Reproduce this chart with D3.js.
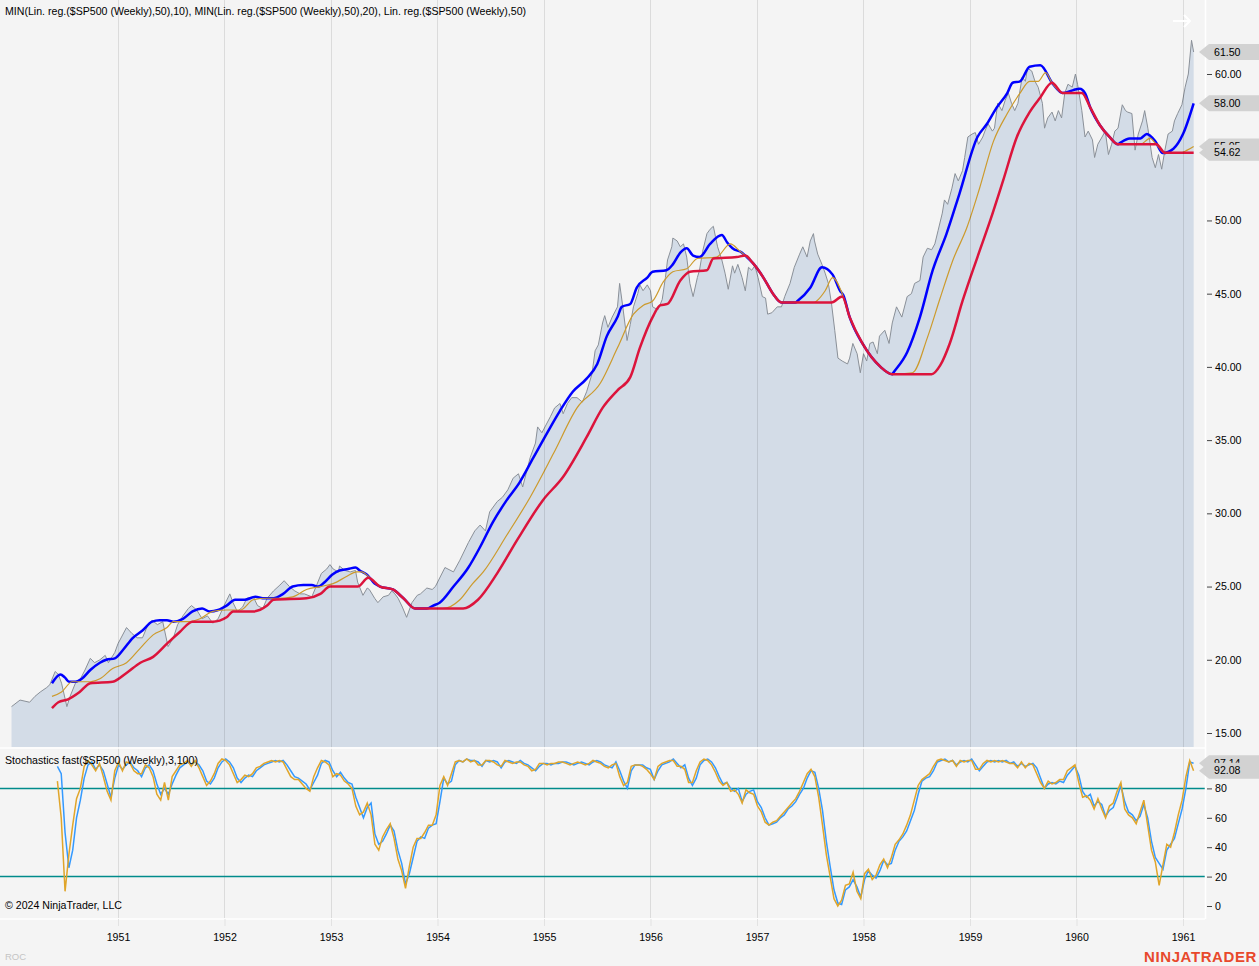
<!DOCTYPE html>
<html><head><meta charset="utf-8">
<script src="https://cdn.jsdelivr.net/npm/d3@7"></script>
<style>
body{margin:0;background:#f4f4f4;}
svg{display:block;font-family:Arial,"Liberation Sans",sans-serif;}
</style>
</head><body>
<svg id="c" width="1259" height="966"></svg>
<script>
// ---------- DATA ----------
const yearTicks = [1951,1952,1953,1954,1955,1956,1957,1958,1959,1960,1961];
const priceTicks = [15,20,25,30,35,40,45,50,55,60];
const stochTicks = [0,20,40,60,80];
const stochLevels = [20,80];

// $SP500 weekly close, [decimal year, value]
const spx1950_52 = [[1950.00,16.8],[1950.08,17.25],[1950.17,17.1],[1950.22,17.5],[1950.27,17.8],[1950.33,18.1],[1950.36,18.3],[1950.41,19.2],[1950.44,19.0],[1950.47,18.4],[1950.52,16.8],[1950.55,17.5],[1950.60,18.4],[1950.64,18.6],[1950.69,19.3],[1950.74,20.1],[1950.78,19.8],[1950.83,20.0],[1950.88,20.3],[1950.91,19.8],[1950.97,20.5],
[1951.00,21.1],[1951.08,22.2],[1951.13,21.8],[1951.18,21.5],[1951.23,21.5],[1951.27,22.2],[1951.32,22.7],[1951.37,22.4],[1951.42,22.6],[1951.47,20.9],[1951.52,21.5],[1951.56,22.4],[1951.61,23.0],[1951.66,23.5],[1951.69,23.7],[1951.74,23.4],[1951.79,22.8],[1951.84,23.0],[1951.89,22.5],[1951.94,22.8],[1951.99,23.6],
[1952.05,24.5],[1952.08,23.9],[1952.12,23.3],[1952.17,23.6],[1952.21,24.2],[1952.27,24.3],[1952.31,23.7],[1952.36,23.5],[1952.40,24.2],[1952.46,24.7],[1952.52,25.1],[1952.56,25.4],[1952.61,25.0],[1952.66,24.7],[1952.71,24.5],[1952.75,24.5],[1952.82,24.3],[1952.86,25.0],[1952.91,25.9],[1952.96,26.2],[1952.99,26.5]];
const spx1953_55 = [[1953.02,26.2],[1953.07,26.0],[1953.08,26.4],[1953.13,26.1],[1953.18,26.0],[1953.23,26.1],[1953.25,25.3],[1953.30,24.4],[1953.34,24.9],[1953.36,24.8],[1953.41,24.2],[1953.44,23.9],[1953.49,24.3],[1953.54,24.4],[1953.57,24.7],[1953.60,24.5],[1953.63,24.2],[1953.67,23.6],[1953.71,22.9],[1953.76,23.9],[1953.81,24.4],[1953.84,24.5],[1953.90,24.9],[1953.95,24.8],[1953.98,25.0],
[1954.07,26.3],[1954.15,26.0],[1954.21,26.8],[1954.29,28.0],[1954.35,28.8],[1954.40,29.2],[1954.45,28.8],[1954.49,30.1],[1954.56,30.8],[1954.61,31.1],[1954.66,31.6],[1954.71,32.4],[1954.76,32.7],[1954.80,31.8],[1954.87,33.8],[1954.92,34.8],[1954.94,35.9],[1954.98,35.5],
[1955.06,36.6],[1955.10,37.2],[1955.15,37.5],[1955.18,36.8],[1955.22,37.5],[1955.26,37.9],[1955.31,37.9],[1955.36,37.6],[1955.40,38.3],[1955.45,39.5],[1955.48,41.1],[1955.51,41.5],[1955.55,43.0],[1955.57,43.5],[1955.60,42.7],[1955.64,43.4],[1955.69,44.1],[1955.71,45.7],[1955.74,44.1],[1955.78,41.8],[1955.81,42.9],[1955.84,44.1],[1955.88,45.0],[1955.90,45.6],[1955.93,45.2],[1955.97,45.6],[1956.00,45.2]];
const spx1956_58 = [[1956.02,44.1],[1956.07,43.9],[1956.11,44.6],[1956.14,46.1],[1956.16,47.3],[1956.20,48.2],[1956.21,48.8],[1956.25,48.6],[1956.28,48.2],[1956.31,48.4],[1956.34,47.5],[1956.37,45.7],[1956.40,44.8],[1956.44,46.1],[1956.46,46.6],[1956.49,47.9],[1956.53,49.1],[1956.56,49.4],[1956.59,49.6],[1956.61,48.9],[1956.63,48.2],[1956.67,47.3],[1956.70,46.4],[1956.73,45.3],[1956.77,46.9],[1956.79,46.4],[1956.82,47.0],[1956.86,46.1],[1956.89,45.2],[1956.92,46.8],[1956.95,46.6],[1956.98,46.9],
[1957.01,46.1],[1957.05,44.8],[1957.08,44.7],[1957.10,43.6],[1957.14,43.7],[1957.19,44.1],[1957.23,44.1],[1957.26,44.8],[1957.31,45.7],[1957.35,46.8],[1957.40,47.7],[1957.43,48.2],[1957.47,47.5],[1957.50,48.6],[1957.53,49.1],[1957.54,48.6],[1957.57,47.7],[1957.61,47.0],[1957.64,46.4],[1957.67,45.7],[1957.70,44.3],[1957.73,42.5],[1957.76,40.6],[1957.80,40.4],[1957.85,40.2],[1957.87,40.6],[1957.90,41.6],[1957.94,40.9],[1957.97,39.6],
[1958.00,40.9],[1958.03,40.4],[1958.06,41.6],[1958.09,41.7],[1958.13,40.9],[1958.15,42.1],[1958.20,42.5],[1958.24,41.6],[1958.27,43.0],[1958.31,44.1],[1958.36,43.4],[1958.41,44.8],[1958.45,45.0],[1958.48,45.7],[1958.53,45.9],[1958.56,47.5],[1958.60,48.1],[1958.64,48.0],[1958.67,48.4],[1958.70,49.3],[1958.74,50.5],[1958.76,51.4],[1958.79,51.1],[1958.83,52.2],[1958.86,53.2],[1958.89,52.7],[1958.93,53.4],[1958.95,54.3],[1958.98,55.7]];
const spx1959_61 = [[1959.02,55.9],[1959.05,56.0],[1959.08,55.2],[1959.12,55.7],[1959.14,56.1],[1959.17,56.6],[1959.21,56.1],[1959.23,56.3],[1959.26,58.0],[1959.30,57.5],[1959.33,58.2],[1959.36,58.7],[1959.39,58.0],[1959.42,57.5],[1959.45,58.0],[1959.49,59.8],[1959.52,59.5],[1959.54,60.4],[1959.58,60.2],[1959.61,59.5],[1959.64,59.1],[1959.68,58.0],[1959.70,56.3],[1959.73,57.0],[1959.77,57.4],[1959.80,56.8],[1959.83,57.5],[1959.86,57.0],[1959.89,58.7],[1959.92,59.3],[1959.96,59.1],[1959.99,60.0],
[1960.01,59.3],[1960.05,57.5],[1960.08,55.7],[1960.11,56.1],[1960.15,55.5],[1960.17,54.3],[1960.20,55.2],[1960.24,55.7],[1960.27,56.1],[1960.30,54.5],[1960.33,55.2],[1960.36,56.1],[1960.39,56.3],[1960.43,57.9],[1960.46,57.5],[1960.48,57.4],[1960.52,57.3],[1960.55,54.8],[1960.58,55.9],[1960.62,56.8],[1960.64,57.5],[1960.67,56.3],[1960.71,54.3],[1960.74,53.6],[1960.77,54.5],[1960.80,53.5],[1960.83,54.8],[1960.86,55.9],[1960.90,56.1],[1960.92,56.8],[1960.95,57.3],[1960.99,57.9],
[1961.02,59.1],[1961.05,60.0],[1961.08,62.3],[1961.10,61.5]];

// Lin. reg.($SP500 (Weekly),50)  (blue)
const linReg50 = [[1950.38,18.4],[1950.46,19.0],[1950.50,18.8],[1950.54,18.5],[1950.60,18.5],[1950.66,18.7],[1950.74,19.3],[1950.83,19.8],[1950.89,20.0],[1950.97,20.1],
[1951.05,20.7],[1951.14,21.5],[1951.23,22.0],[1951.32,22.6],[1951.39,22.7],[1951.46,22.7],[1951.52,22.6],[1951.61,22.8],[1951.70,23.3],[1951.79,23.5],[1951.86,23.3],[1951.94,23.4],
[1952.02,23.7],[1952.10,24.1],[1952.19,24.1],[1952.29,24.3],[1952.36,24.2],[1952.46,24.2],[1952.55,24.5],[1952.64,25.0],[1952.74,25.1],[1952.82,25.1],[1952.88,25.0],[1952.94,25.3],
[1953.01,25.8],[1953.08,26.1],[1953.16,26.2],[1953.23,26.3],[1953.27,26.1],[1953.34,25.8],[1953.41,25.2],[1953.46,25.0],[1953.58,24.8],[1953.68,24.2],[1953.79,23.5],[1953.90,23.5],[1953.96,23.7],
[1954.02,23.9],[1954.15,25.0],[1954.29,26.3],[1954.40,27.7],[1954.52,29.4],[1954.65,30.9],[1954.77,32.1],[1954.90,33.8],
[1955.03,35.5],[1955.15,37.0],[1955.27,38.3],[1955.40,39.2],[1955.50,40.2],[1955.59,42.1],[1955.69,43.4],[1955.73,44.1],[1955.81,44.3],[1955.87,45.4],[1955.97,46.1],
[1956.02,46.5],[1956.15,46.6],[1956.21,47.0],[1956.28,47.8],[1956.34,48.1],[1956.40,47.6],[1956.46,47.5],[1956.56,48.4],[1956.67,49.0],[1956.72,48.5],[1956.77,48.1],[1956.86,47.8],[1956.89,47.6],[1956.96,47.1],
[1957.06,46.1],[1957.15,45.0],[1957.23,44.4],[1957.36,44.4],[1957.38,44.5],[1957.50,45.4],[1957.61,46.8],[1957.71,46.3],[1957.78,45.2],[1957.81,44.9],[1957.87,43.4],[1957.99,41.6],
[1958.16,40.0],[1958.27,39.5],[1958.28,39.6],[1958.41,41.0],[1958.53,43.4],[1958.65,46.6],[1958.78,49.1],[1958.90,51.8],
[1959.07,55.7],[1959.16,56.6],[1959.25,57.7],[1959.35,58.7],[1959.40,59.4],[1959.47,59.5],[1959.56,60.5],[1959.66,60.6],[1959.78,59.3],[1959.87,58.7],[1959.97,58.9],
[1960.03,59.0],[1960.08,58.7],[1960.13,57.7],[1960.22,56.5],[1960.31,55.7],[1960.39,55.2],[1960.41,55.3],[1960.50,55.6],[1960.60,55.6],[1960.66,55.9],[1960.74,55.4],[1960.81,54.6],[1960.91,54.9],
[1961.00,55.9],[1961.10,58.0]];

// MIN(Lin. reg.,10)  (orange)
const minLinReg10 = [[1950.38,17.5],[1950.47,17.8],[1950.57,18.5],[1950.74,18.5],[1950.83,18.7],[1950.95,19.4],
[1951.08,19.8],[1951.21,20.8],[1951.33,21.7],[1951.46,22.2],[1951.52,22.6],[1951.65,22.6],[1951.77,22.8],[1951.89,23.3],
[1952.02,23.4],[1952.15,23.4],[1952.27,24.1],[1952.40,24.2],[1952.52,24.2],[1952.64,24.3],[1952.77,24.8],[1952.90,25.0],
[1953.02,25.2],[1953.15,25.7],[1953.24,26.0],[1953.29,26.0],[1953.35,25.7],[1953.46,25.0],[1953.58,24.8],[1953.68,24.2],[1953.79,23.5],
[1954.05,23.5],[1954.21,24.1],[1954.33,25.2],[1954.43,26.0],[1954.65,28.5],[1954.87,31.1],
[1955.09,34.1],[1955.31,37.2],[1955.53,38.9],[1955.69,41.3],[1955.84,43.6],[1955.93,44.2],
[1956.02,44.5],[1956.12,45.8],[1956.21,46.5],[1956.34,46.7],[1956.44,47.4],[1956.62,47.5],[1956.75,48.4],[1956.84,47.9],[1956.89,47.6],[1956.96,47.1],
[1957.06,46.1],[1957.15,45.0],[1957.23,44.4],[1957.54,44.4],[1957.56,44.5],[1957.64,45.2],[1957.71,46.1],[1957.80,45.0],[1957.87,43.4],[1957.99,41.6],
[1958.16,40.0],[1958.27,39.5],[1958.46,39.6],[1958.60,42.0],[1958.72,44.7],[1958.84,47.3],[1958.97,49.5],
[1959.09,52.2],[1959.22,55.4],[1959.35,57.3],[1959.47,58.7],[1959.56,59.5],[1959.64,59.5],[1959.71,60.1],[1959.77,59.4],[1959.87,58.7],
[1960.05,58.7],[1960.13,57.7],[1960.22,56.5],[1960.31,55.7],[1960.39,55.2],[1960.60,55.2],[1960.69,55.6],[1960.75,55.2],[1960.83,54.6],[1960.97,54.6],
[1961.04,54.8],[1961.10,55.05]];

// MIN(Lin. reg.,20)  (red)
const minLinReg20 = [[1950.38,16.7],[1950.44,17.1],[1950.53,17.3],[1950.64,17.8],[1950.74,18.4],[1950.95,18.5],
[1951.08,19.1],[1951.21,19.8],[1951.33,20.2],[1951.46,21.1],[1951.58,21.9],[1951.70,22.6],[1951.89,22.6],
[1952.02,22.9],[1952.08,23.3],[1952.27,23.3],[1952.40,23.7],[1952.46,24.1],[1952.77,24.2],[1952.90,24.5],[1952.99,25.0],
[1953.25,25.0],[1953.35,25.6],[1953.46,25.0],[1953.58,24.8],[1953.68,24.2],[1953.79,23.5],
[1954.24,23.5],[1954.38,24.1],[1954.56,25.9],[1954.75,28.2],[1954.99,30.9],
[1955.18,32.5],[1955.40,35.2],[1955.55,37.2],[1955.69,38.4],[1955.81,39.3],[1955.90,41.3],
[1956.02,43.4],[1956.09,44.2],[1956.16,44.3],[1956.28,45.9],[1956.37,46.5],[1956.53,46.6],[1956.59,47.4],[1956.81,47.5],[1956.89,47.6],[1956.96,47.1],
[1957.06,46.1],[1957.15,45.0],[1957.23,44.4],[1957.70,44.4],[1957.80,44.8],[1957.87,43.4],[1957.99,41.6],
[1958.16,40.0],[1958.27,39.5],[1958.64,39.5],[1958.72,40.1],[1958.81,41.6],[1958.93,44.5],
[1959.07,47.5],[1959.19,50.0],[1959.31,52.7],[1959.44,55.7],[1959.56,57.4],[1959.66,58.4],[1959.77,59.4],[1959.87,58.7],
[1960.05,58.7],[1960.13,57.7],[1960.22,56.5],[1960.31,55.7],[1960.39,55.2],[1960.75,55.2],[1960.83,54.62],[1961.10,54.62]];

// Stochastics fast(3,100): sampled every stochStep years from stochStart
const stochStart = 1950.431, stochStep = 0.03592;
const stochD = [95,90,50,26,38,60,72,87,96,98, 93,96,92,83,74,87,96,93,96,98, 94,92,88,94,96,92,83,76,80,76,
83,89,94,96,98,96,98,96,92,85, 83,87,94,98,100,98,94,87,84,87, 89,88,92,94,96,97,98,99,98,99,
96,92,88,87,85,83,79,84,89,97, 99,98,92,88,91,87,84,83,74,67, 60,67,70,49,42,44,49,55,51,38,
29,15,22,33,44,47,46,53,55,56, 71,87,83,85,96,99,98,100,99,99, 98,95,99,98,99,98,94,98,99,98,
97,99,97,96,94,92,95,97,97,96, 97,97,98,98,97,96,97,98,97,96, 98,99,98,96,95,94,98,92,85,80,
92,96,96,96,94,93,86,92,96,97, 98,100,97,94,96,87,82,87,96,99, 100,98,94,88,83,84,80,78,80,71,
76,78,79,71,67,60,55,56,57,60, 62,66,68,71,76,80,87,92,91,80, 65,44,27,11,2,1,11,13,18,13,
6,18,24,21,19,24,31,28,29,38, 44,47,51,58,65,76,85,87,88,92, 98,99,100,98,99,96,98,99,98,100,
96,92,95,98,99,98,99,98,99,97, 98,95,97,95,96,97,94,87,80,83, 84,83,85,84,89,92,95,89,78,74,
76,68,71,69,61,65,67,74,82,71, 64,62,58,61,69,60,44,33,29,25, 38,42,46,56,66,80,98,97.14];
const stochK = [85,60,10,35,55,73,80,95,99,96, 92,97,88,78,72,92,98,92,98,97, 92,90,90,96,94,88,76,72,84,72,
88,92,96,97,99,95,99,94,88,82, 85,90,97,100,99,96,90,84,86,89, 88,90,94,95,97,98,99,98,99,98,
93,88,86,86,83,80,78,88,94,99, 98,96,88,90,89,85,83,80,68,62, 64,70,62,42,38,47,52,56,46,32,
24,12,27,40,46,46,50,55,55,62, 82,88,82,90,98,99,98,100,98,99, 96,96,99,99,98,96,95,99,98,97,
98,98,96,95,92,93,97,97,96,97, 97,98,98,97,96,97,98,97,96,97, 99,98,97,95,94,96,97,88,82,84,
95,96,96,95,93,90,86,95,97,98, 99,99,95,95,93,84,84,92,98,100, 99,96,91,85,82,84,78,79,76,70,
79,77,76,68,64,57,55,57,58,61, 64,67,70,73,78,84,90,93,88,74, 55,35,20,5,0,4,14,15,23,10,
5,22,25,18,21,28,32,26,33,42, 45,49,55,62,72,82,86,88,90,95, 99,100,99,98,99,95,99,98,99,99,
93,93,97,99,98,99,98,99,98,97, 97,94,98,94,97,96,90,84,80,85, 83,84,86,86,92,94,96,84,74,75,
72,66,73,66,60,68,70,78,84,66, 62,60,56,64,72,55,38,30,14,28, 42,40,50,62,72,88,99,92.08];

const titleMain = "MIN(Lin. reg.($SP500 (Weekly),50),10), MIN(Lin. reg.($SP500 (Weekly),50),20), Lin. reg.($SP500 (Weekly),50)";
const titleStoch = "Stochastics fast($SP500 (Weekly),3,100)";

// ---------- CHART ----------
const svg = d3.select("#c");
const W = 1259, H = 966;
const plotR = 1205, mainBot = 747, stTop = 749, stBot = 918;
const FS = 10.6;

const x = d3.scaleLinear().domain([1951, 1961]).range([118, 1183]);
const y = d3.scaleLinear().domain([15, 60]).range([733, 74]);
const ys = d3.scaleLinear().domain([0, 100]).range([906, 759]);

svg.append("rect").attr("width", W).attr("height", H).attr("fill", "#f4f4f4");

const defs = svg.append("defs");
defs.append("clipPath").attr("id", "clipMain").append("rect").attr("x", 0).attr("y", 0).attr("width", plotR).attr("height", mainBot);
defs.append("clipPath").attr("id", "clipSt").append("rect").attr("x", 0).attr("y", stTop).attr("width", plotR).attr("height", stBot - stTop);

const price = spx1950_52.concat(spx1953_55, spx1956_58, spx1959_61);

const gMain = svg.append("g").attr("clip-path", "url(#clipMain)");
gMain.append("path").datum(price)
  .attr("d", d3.area().x(d => x(d[0])).y0(mainBot).y1(d => y(d[1])))
  .attr("fill", "#d3dce7");
gMain.append("path").datum(price)
  .attr("d", d3.line().x(d => x(d[0])).y(d => y(d[1])))
  .attr("fill", "none").attr("stroke", "#8a9098").attr("stroke-width", 1);

// vertical grid lines
svg.append("g").selectAll("line").data(yearTicks).join("line")
  .attr("x1", d => x(d)).attr("x2", d => x(d)).attr("y1", 0).attr("y2", stBot)
  .attr("stroke", "#000").attr("stroke-opacity", 0.1).attr("stroke-width", 1)
  .attr("shape-rendering", "crispEdges");

const smooth = d3.line().x(d => x(d[0])).y(d => y(d[1])).curve(d3.curveMonotoneX);
gMain.append("path").datum(linReg50).attr("d", smooth).attr("fill", "none").attr("stroke", "#0000ff").attr("stroke-width", 2.5);
gMain.append("path").datum(minLinReg10).attr("d", smooth).attr("fill", "none").attr("stroke", "#cc9a2c").attr("stroke-width", 1.2);
gMain.append("path").datum(minLinReg20).attr("d", smooth).attr("fill", "none").attr("stroke", "#dc143c").attr("stroke-width", 2.5);

// stochastics
const gSt = svg.append("g").attr("clip-path", "url(#clipSt)");
gSt.selectAll("line.lvl").data(stochLevels).join("line")
  .attr("x1", 0).attr("x2", plotR).attr("y1", d => ys(d)).attr("y2", d => ys(d))
  .attr("stroke", "#008b8b").attr("stroke-width", 1.5);
const stLine = d3.line().x((d, i) => x(stochStart + i * stochStep)).y(d => ys(d));
gSt.append("path").datum(stochD).attr("d", stLine).attr("fill", "none").attr("stroke", "#3399ff").attr("stroke-width", 1.5);
gSt.append("path").datum(stochK).attr("d", stLine).attr("fill", "none").attr("stroke", "#e0a52a").attr("stroke-width", 1.5);

// white separators
svg.append("line").attr("x1", 0).attr("x2", plotR).attr("y1", 748).attr("y2", 748).attr("stroke", "#fff").attr("stroke-width", 1.5);
svg.append("line").attr("x1", 0).attr("x2", plotR).attr("y1", 919).attr("y2", 919).attr("stroke", "#fff").attr("stroke-width", 1.5);
svg.append("line").attr("x1", plotR + 0.5).attr("x2", plotR + 0.5).attr("y1", 0).attr("y2", 919).attr("stroke", "#fff").attr("stroke-width", 1.5);

// axes
function styleAxis(g, size) {
  g.select(".domain").remove();
  g.selectAll(".tick line").attr("stroke", "#444");
  g.selectAll(".tick text").attr("fill", "#000").attr("font-size", size).attr("font-family", "Arial, 'Liberation Sans', sans-serif");
}
svg.append("g").attr("transform", `translate(1207,0)`)
  .call(d3.axisRight(y).tickValues(priceTicks).tickFormat(d3.format(".2f")).tickSize(5).tickPadding(3))
  .call(g => styleAxis(g, FS));
svg.append("g").attr("transform", `translate(1207,0)`)
  .call(d3.axisRight(ys).tickValues(stochTicks).tickFormat(d3.format("d")).tickSize(5).tickPadding(3))
  .call(g => styleAxis(g, FS));
const xAx = svg.append("g").attr("transform", `translate(0,919)`)
  .call(d3.axisBottom(x).tickValues(yearTicks).tickFormat(d3.format("d")).tickSize(7).tickPadding(7))
  .call(g => styleAxis(g, FS));
xAx.selectAll(".tick line").attr("stroke", "#e2e2e2");

// value tags (last values)
function tag(v, yy) {
  const cy = yy(v);
  const g = svg.append("g");
  g.append("path").attr("d", `M1199,${cy} L1209,${cy - 8} L1259,${cy - 8} L1259,${cy + 8} L1209,${cy + 8} Z`).attr("fill", "#d2d2d2");
  g.append("text").attr("x", 1214).attr("y", cy).attr("dy", "0.35em").attr("font-size", FS).attr("fill", "#000").text(d3.format(".2f")(v));
}
tag(price[price.length - 1][1], y);
tag(linReg50[linReg50.length - 1][1], y);
tag(minLinReg10[minLinReg10.length - 1][1], y);
tag(minLinReg20[minLinReg20.length - 1][1], y);
tag(stochD[stochD.length - 1], ys);
tag(stochK[stochK.length - 1], ys);

// texts
svg.append("text").attr("x", 5).attr("y", 15).attr("font-size", FS).attr("fill", "#000").text(titleMain);
svg.append("text").attr("x", 5).attr("y", 764).attr("font-size", FS).attr("fill", "#000").text(titleStoch);
svg.append("text").attr("x", 5).attr("y", 909).attr("font-size", FS).attr("fill", "#000").text("© 2024 NinjaTrader, LLC");
svg.append("text").attr("x", 5).attr("y", 960).attr("font-size", 9.5).attr("fill", "#c4c4c4").text("ROC");

// logo
const logo = svg.append("text").attr("x", 1257).attr("y", 962).attr("text-anchor", "end")
  .attr("font-size", 15).attr("font-weight", "bold").attr("fill", "#e8492c").attr("letter-spacing", 0.6);
logo.append("tspan").text("NIN");
logo.append("tspan").text("J");
logo.append("tspan").text("ATRADER");

// arrow icon
svg.append("path").attr("d", "M1173,21 L1190,21 M1184,15 L1190,21 L1184,27")
  .attr("fill", "none").attr("stroke", "#fff").attr("stroke-width", 2);
</script>
</body></html>
